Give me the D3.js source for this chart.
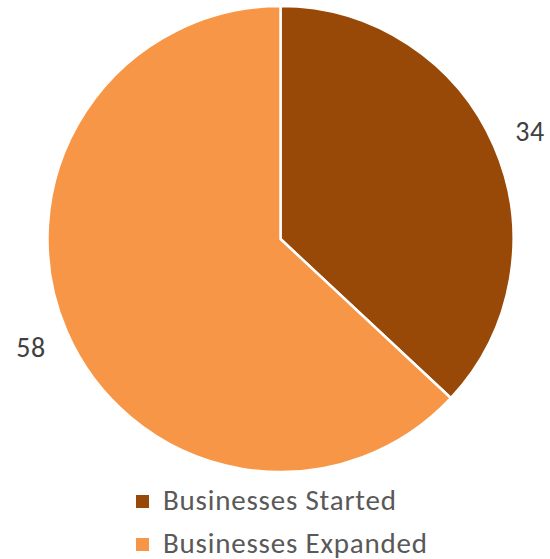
<!DOCTYPE html>
<html>
<head>
<meta charset="utf-8">
<script src="https://cdn.jsdelivr.net/npm/d3@7"></script>
<style>
  body { margin: 0; background: #fff; }
  svg text { font-family: Carlito, Calibri, Lato, sans-serif; }
</style>
</head>
<body>
<div class="chart"></div>
<script>
var categories = ["Businesses Started", "Businesses Expanded"];
var values = [34, 58];

(function drawPie() {
	"use strict";
	var width = 550;
	var height = 559;
	var cx = 280.5, cy = 239, radius = 233;

	var color = d3.scaleOrdinal()
				  .domain(categories)
				  .range(["#984807", "#F79646"]);

	var svg = d3.select(".chart")
				.append("svg")
				.attr("width", width)
				.attr("height", height);

	var g = svg.append("g")
			   .attr("transform", "translate(" + cx + "," + cy + ")");

	var pie = d3.pie().sort(null).value(function(d) { return d.value; });
	var data = categories.map(function(c, i) { return { name: c, value: values[i] }; });

	var arc = d3.arc().innerRadius(0).outerRadius(radius);
	var labelArc = d3.arc().innerRadius(272).outerRadius(272);

	g.selectAll("path")
	 .data(pie(data))
	 .enter()
	 .append("path")
	 .attr("d", arc)
	 .attr("fill", function(d) { return color(d.data.name); })
	 .attr("stroke", "#fff")
	 .attr("stroke-width", 2.5)
	 .attr("stroke-linejoin", "round");

	// value labels sit just outside the slice middles
	g.selectAll("text.lbl")
	 .data(pie(data))
	 .enter()
	 .append("text")
	 .attr("class", "lbl")
	 .attr("x", function(d) { return labelArc.centroid(d)[0]; })
	 .attr("y", function(d) { return labelArc.centroid(d)[1]; })
	 .attr("dy", "0.36em")
	 .attr("text-anchor", "middle")
	 .attr("fill", "#404040")
	 .style("font-size", "28px")
	 .style("letter-spacing", "0.5px")
	 .text(function(d) { return d.data.value; });

	var legend = svg.append("g")
					.attr("transform", "translate(136, 495)");

	var item = legend.selectAll("g")
					 .data(categories)
					 .enter()
					 .append("g")
					 .attr("transform", function(d, i) { return "translate(0," + i * 43 + ")"; });

	item.append("rect")
		.attr("width", 13)
		.attr("height", 13)
		.attr("fill", function(d) { return color(d); });

	item.append("text")
		.attr("x", 27)
		.attr("y", 14.5)
		.attr("fill", "#595959")
		.style("font-size", "29px")
		.style("letter-spacing", "0.8px")
		.text(function(d) { return d; });
}());
</script>
</body>
</html>
